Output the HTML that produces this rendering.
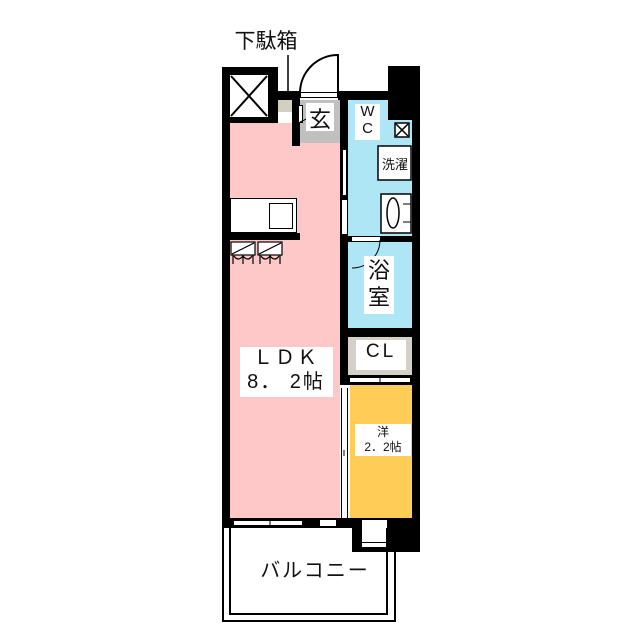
<!DOCTYPE html>
<html><head><meta charset="utf-8"><style>
body{margin:0;background:#fff;}
#c{position:relative;width:640px;height:640px;overflow:hidden;background:#fff;font-family:"Liberation Sans","Noto Sans CJK JP",sans-serif;}
.a{position:absolute;}
.k{position:absolute;background:#000;}
.t{position:absolute;color:#111;text-align:center;}
</style></head><body><div id="c">
<!-- colored rooms -->
<div class="a" style="left:230px;top:123px;width:110px;height:395px;background:#ffc8c8"></div>
<div class="a" style="left:348px;top:100px;width:64px;height:136px;background:#aee6f6"></div>
<div class="a" style="left:348px;top:242px;width:64px;height:86px;background:#aee6f6"></div>
<div class="a" style="left:348px;top:337px;width:64px;height:38px;background:#d4d0c8"></div>
<div class="a" style="left:350px;top:385px;width:62px;height:133px;background:#ffcc55"></div>
<div class="a" style="left:300px;top:100px;width:40px;height:43px;background:#c0c0c0"></div>
<div class="a" style="left:278px;top:100px;width:14px;height:12px;background:#d4d0c0"></div>

<!-- walls -->
<div class="k" style="left:222px;top:67px;width:56px;height:56px"></div>
<div class="a" style="left:230px;top:75px;width:38px;height:42px;background:#fff"></div>
<div class="k" style="left:222px;top:67px;width:8px;height:461px"></div>
<div class="k" style="left:278px;top:91px;width:22px;height:9px"></div>
<div class="k" style="left:338px;top:91px;width:50px;height:9px"></div>
<div class="k" style="left:292px;top:100px;width:8px;height:46px"></div>
<div class="k" style="left:388px;top:66px;width:32px;height:54px"></div>
<div class="k" style="left:412px;top:66px;width:8px;height:486px"></div>
<div class="k" style="left:340px;top:100px;width:8px;height:285px"></div>
<div class="k" style="left:340px;top:142px;width:0;height:0"></div>
<div class="k" style="left:348px;top:236px;width:64px;height:6px"></div>
<div class="k" style="left:348px;top:328px;width:64px;height:9px"></div>
<div class="k" style="left:348px;top:375px;width:64px;height:10px"></div>
<div class="k" style="left:222px;top:518px;width:198px;height:10px"></div>
<div class="k" style="left:352px;top:518px;width:68px;height:34px"></div>
<div class="k" style="left:230px;top:233px;width:70px;height:7px"></div>

<!-- openings/windows -->
<div class="a" style="left:300px;top:92px;width:38px;height:6px;background:#fff;border:1px solid #000;box-sizing:border-box"></div>
<div class="a" style="left:298px;top:105px;width:5px;height:18px;background:#fff;border:1px solid #000;box-sizing:border-box"></div>
<div class="a" style="left:343px;top:150px;width:3px;height:45px;background:#fff"></div>
<div class="a" style="left:342px;top:200px;width:5px;height:34px;background:#fff"></div>
<div class="a" style="left:352px;top:237px;width:28px;height:4px;background:#fff"></div>
<div class="a" style="left:341px;top:388px;width:7px;height:130px;background:#fff;border-left:1px solid #000;border-right:1px solid #000;box-sizing:border-box"></div>
<div class="a" style="left:350px;top:377px;width:60px;height:6px;background:#fff;border-top:1px solid #000;border-bottom:1px solid #000;box-sizing:border-box"></div>
<div class="a" style="left:234px;top:520px;width:68px;height:6px;background:#fff;border-top:1px solid #000;border-bottom:1px solid #000;box-sizing:border-box"></div>
<div class="a" style="left:320px;top:520px;width:16px;height:6px;background:#fff"></div>
<div class="a" style="left:362px;top:520px;width:25px;height:28px;background:#fff"></div>
<div class="a" style="left:362px;top:542px;width:25px;height:6px;background:#fff;border-top:1px solid #000;border-bottom:1px solid #000;box-sizing:border-box"></div>

<!-- balcony -->
<div class="a" style="left:222px;top:528px;width:174px;height:94px;border:2px solid #000;border-top:none;box-sizing:border-box"></div>
<div class="a" style="left:229px;top:528px;width:159px;height:87px;border:2px solid #000;border-top:none;box-sizing:border-box"></div>

<!-- kitchen -->
<div class="a" style="left:230px;top:198px;width:67px;height:35px;background:#fff;border:1px solid #000;box-sizing:border-box"></div>
<div class="a" style="left:269px;top:203px;width:24px;height:26px;border:1px solid #000;box-sizing:border-box"></div>

<svg class="a" style="left:0;top:0" width="640" height="640">
<g stroke="#000" stroke-width="2" fill="none">
<line x1="231" y1="76" x2="267" y2="116"/><line x1="267" y1="76" x2="231" y2="116"/>
<path d="M300 93 A38 38 0 0 1 338 55 L338 92"/>
<line x1="288" y1="55" x2="288" y2="100" stroke-width="1.5"/>
<path d="M300 122 Q310 118 318 110" stroke-width="1"/>
<rect x="395" y="123" width="14" height="14" fill="#fff" stroke-width="1.5"/>
<line x1="396" y1="124" x2="408" y2="136" stroke-width="1.5"/><line x1="408" y1="124" x2="396" y2="136" stroke-width="1.5"/>
<rect x="378" y="146" width="33" height="34" fill="#fff" stroke-width="1.5"/>
<rect x="381" y="194" width="30" height="39" fill="#fff" stroke-width="1.5"/>
<ellipse cx="393" cy="213" rx="6" ry="15" stroke-width="1.5"/>
<line x1="403" y1="204" x2="411" y2="204" stroke-width="1"/><line x1="403" y1="222" x2="411" y2="222" stroke-width="1"/>
<path d="M352 268 A28 28 0 0 0 380 240" stroke-width="1"/>
<g stroke-width="1.2" fill="#fff">
<rect x="231" y="242" width="24" height="13"/><rect x="258" y="242" width="24" height="13"/>
</g>
<g stroke-width="1.2">
<line x1="232" y1="254" x2="254" y2="243"/><line x1="259" y1="254" x2="281" y2="243"/>
<path d="M233 255 L233 264 M243 255 L243 264 M253 255 L253 264 M260 255 L260 264 M270 255 L270 264 M280 255 L280 264"/>
<path d="M234 256 Q238 262 243 256 Q248 262 252 256 M261 256 Q265 262 270 256 Q275 262 279 256"/>
</g>
<line x1="270" y1="519" x2="270" y2="527" stroke-width="1"/>
<line x1="344" y1="450" x2="344" y2="456" stroke-width="1"/>
<line x1="380" y1="376" x2="380" y2="384" stroke-width="1"/>
</g></svg>

<!-- labels -->
<div class="t" style="left:230px;top:25px;width:72px;font-size:21px">下駄箱</div>
<div class="a" style="left:306px;top:103px;width:28px;height:28px;background:#fff"></div>
<div class="t" style="left:304px;top:102px;width:32px;font-size:22px">玄</div>
<div class="a" style="left:355px;top:104px;width:25px;height:36px;background:#fff"></div>
<div class="t" style="left:355px;top:103px;width:25px;font-size:15px;line-height:17px">W<br>C</div>
<div class="t" style="left:378px;top:154px;width:34px;font-size:13px">洗濯</div>
<div class="a" style="left:364px;top:256px;width:30px;height:58px;background:#fff"></div>
<div class="t" style="left:364px;top:257px;width:30px;font-size:22px;line-height:27px">浴<br>室</div>
<div class="a" style="left:356px;top:340px;width:50px;height:30px;background:#fff"></div>
<div class="t" style="left:352px;top:341px;width:58px;font-size:19px;letter-spacing:3px">CL</div>
<div class="a" style="left:240px;top:347px;width:93px;height:50px;background:#fff"></div>
<div class="t" style="left:236px;top:346px;width:100px;font-size:20px;line-height:24px;letter-spacing:2px">ＬＤＫ<br>8．&nbsp;2帖</div>
<div class="a" style="left:355px;top:424px;width:56px;height:32px;background:#fff"></div>
<div class="t" style="left:352px;top:425px;width:62px;font-size:12px;line-height:15px">洋<br>2．2帖</div>
<div class="t" style="left:240px;top:554px;width:150px;font-size:20px;letter-spacing:2px">バルコニー</div>
</div></body></html>
